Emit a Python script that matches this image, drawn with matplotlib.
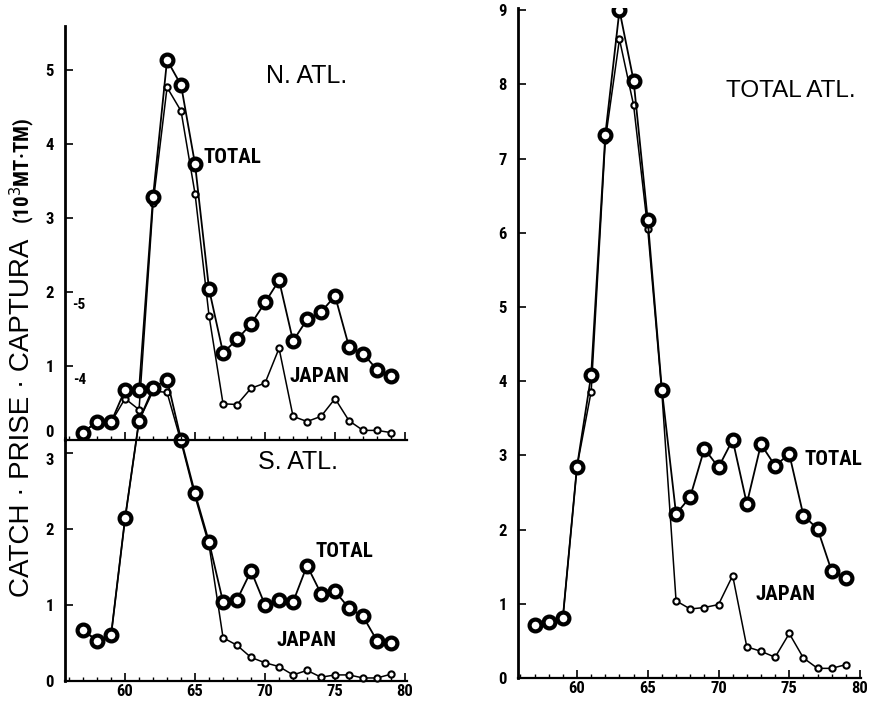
import matplotlib
matplotlib.use("Agg")
import matplotlib.pyplot as plt
from matplotlib import font_manager as fm
from matplotlib.ticker import MultipleLocator

years = list(range(1957, 1980))
yr = [y - 1900 for y in years]

# N. Atlantic catch (10^3 MT)
natl_total = [0.10, 0.25, 0.24, 0.68, 0.68, 3.29, 5.14, 4.80, 3.73, 2.04, 1.18, 1.36,
              1.57, 1.86, 2.16, 1.34, 1.63, 1.73, 1.95, 1.26, 1.17, 0.95, 0.86]
natl_japan = [0.10, 0.25, 0.24, 0.56, 0.41, 3.20, 4.77, 4.45, 3.33, 1.68, 0.49, 0.48,
              0.70, 0.77, 1.24, 0.32, 0.25, 0.32, 0.56, 0.26, 0.13, 0.13, 0.10]

# S. Atlantic
satl_total = [0.67, 0.53, 0.60, 2.14, 3.43, 3.86, 3.97, 3.18, 2.47, 1.83, 1.04, 1.07,
              1.45, 1.00, 1.07, 1.04, 1.52, 1.15, 1.18, 0.96, 0.85, 0.53, 0.50]
satl_japan = [0.67, 0.53, 0.60, 2.14, 3.43, 3.82, 3.80, 3.15, 2.43, 1.79, 0.57, 0.47,
              0.31, 0.24, 0.19, 0.08, 0.14, 0.05, 0.08, 0.08, 0.04, 0.04, 0.09]

# Total Atlantic
tatl_total = [0.72, 0.75, 0.81, 2.85, 4.08, 7.32, 9.00, 8.05, 6.17, 3.88, 2.21, 2.44,
              3.09, 2.84, 3.21, 2.35, 3.15, 2.86, 3.02, 2.19, 2.01, 1.44, 1.35]
tatl_japan = [0.72, 0.75, 0.81, 2.85, 3.86, 7.25, 8.61, 7.72, 6.05, 3.84, 1.04, 0.93,
              0.95, 0.99, 1.38, 0.42, 0.36, 0.28, 0.60, 0.27, 0.13, 0.13, 0.18]

xticks = [60, 65, 70, 75, 80]
yticks_n = [0, 1, 2, 3, 4, 5]
yticks_s = [0, 1, 2, 3]
yticks_t = [0, 1, 2, 3, 4, 5, 6, 7, 8, 9]

# pick a condensed face if one is installed
names = {f.name for f in fm.fontManager.ttflist}
narrow, stretch, lab_size = ["DejaVu Sans"], "normal", 12
for cand in ["Liberation Sans Narrow", "Roboto Condensed", "Open Sans Condensed",
             "DejaVu Sans Condensed"]:
    if cand in names:
        narrow, lab_size = [cand, "DejaVu Sans"], 15
        break
else:
    if any(f.name == "DejaVu Sans" and str(f.stretch) in ("condensed", "semi-condensed")
           for f in fm.fontManager.ttflist):
        narrow, stretch, lab_size = ["DejaVu Sans"], "condensed", 14
plain = ["Liberation Sans", "DejaVu Sans"]

W, H = 871, 705
fig = plt.figure(figsize=(W / 100, H / 100), dpi=100)


def box(x0, y0, x1, y1):
    # pixel box -> figure fraction
    return [x0 / W, 1 - y1 / H, (x1 - x0) / W, (y1 - y0) / H]


def style(ax, xl, yl, yt, xlabels=True):
    ax.set_xlim(*xl)
    ax.set_ylim(*yl)
    ax.set_facecolor("none")
    for s in ["top", "right"]:
        ax.spines[s].set_visible(False)
    ax.spines["left"].set_linewidth(2.0)
    ax.spines["bottom"].set_linewidth(1.6)
    ax.set_xticks(xticks)
    ax.set_yticks(yt)
    ax.xaxis.set_minor_locator(MultipleLocator(1))
    ax.tick_params(axis="both", which="major", direction="in", length=6, width=1.2,
                   labelsize=12)
    ax.tick_params(axis="y", pad=8)
    ax.tick_params(axis="x", pad=2)
    ax.tick_params(axis="x", which="minor", direction="in", length=3, width=1.0)
    if not xlabels:
        ax.tick_params(axis="x", labelbottom=False)
    for lab in ax.get_xticklabels() + ax.get_yticklabels():
        lab.set_family(narrow)
        lab.set_fontstretch(stretch)
        lab.set_fontweight("bold")


def draw(ax, total, japan, clip=True):
    ax.plot(yr, japan, color="black", lw=1.1, marker="o", ms=4.5, mfc="white",
            mec="black", mew=1.5, clip_on=clip, zorder=3)
    ax.plot(yr, total, color="black", lw=1.3, marker="o", ms=8.5, mfc="white",
            mec="black", mew=3.0, clip_on=clip, zorder=4)


lab_kw = dict(family=narrow, fontstretch=stretch, fontweight="bold", fontsize=lab_size,
              va="center", ha="left")
reg_kw = dict(family=plain, fontsize=18, va="center", ha="left")

# left bottom: S. Atlantic
ax_s = fig.add_axes(box(65, 438, 407, 681))
style(ax_s, (55.71, 80.14), (0, 3.2), yticks_s)
draw(ax_s, satl_total, satl_japan, clip=False)
ax_s.text(69.5, 2.88, "S. ATL.", **reg_kw)
ax_s.text(73.57, 1.71, "TOTAL", **lab_kw)
ax_s.text(70.85, 0.53, "JAPAN", **lab_kw)

# left top: N. Atlantic
ax_n = fig.add_axes(box(65, 26, 407, 440))
style(ax_n, (55.71, 80.14), (0, 5.6), yticks_n, xlabels=False)
draw(ax_n, natl_total, natl_japan)
ax_n.text(70.1, 4.92, "N. ATL.", **reg_kw)
ax_n.text(65.57, 3.82, "TOTAL", **lab_kw)
ax_n.text(71.78, 0.86, "JAPAN", **lab_kw)
ax_n.text(56.2, 1.82, "-5", family=narrow, fontweight="bold", fontsize=11, va="center")
ax_n.text(56.3, 0.81, "-4", family=narrow, fontweight="bold", fontsize=11, va="center")

# the two panels meet: push "0" (top) up and "3" (bottom) down a little
ax_n.yaxis.get_major_ticks()[0].label1.set_va("bottom")
ax_s.yaxis.get_major_ticks()[-1].label1.set_va("top")

# right: total Atlantic
ax_t = fig.add_axes(box(518, 8, 861, 678))
style(ax_t, (55.83, 80.07), (0, 9.03), yticks_t)
draw(ax_t, tatl_total, tatl_japan)
ax_t.text(70.5, 7.91, "TOTAL ATL.", clip_on=False, family=plain, fontsize=17.5,
          va="center", ha="left")
ax_t.text(76.11, 2.95, "TOTAL", **lab_kw)
ax_t.text(72.6, 1.13, "JAPAN", **lab_kw)

# y-axis title
fig.text(22 / W, 1 - 597 / H, "CATCH · PRISE · CAPTURA", rotation=90, ha="center",
         va="bottom", family=plain, fontsize=20)
fig.text(22 / W, 1 - 224 / H, "(10$^3$MT·TM)", rotation=90, ha="center", va="bottom",
         family=narrow, fontstretch=stretch, fontweight="bold", fontsize=15)

fig.savefig("out.png", dpi=100)
